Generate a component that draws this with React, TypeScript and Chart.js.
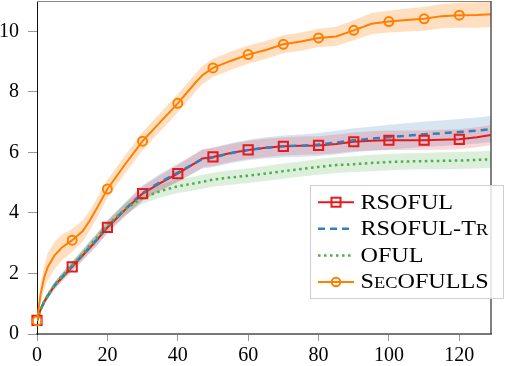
import React, { useEffect, useRef } from 'react';
import { Chart, registerables } from 'chart.js';

Chart.register(...registerables);

// ---- data ----
const xs = [0, 1, 2, 3, 5, 7, 10, 13, 15, 17, 20, 25, 30, 35, 40, 45, 47, 50, 55, 60, 65, 70, 75, 80, 85, 90, 95, 100, 105, 110, 115, 120, 125, 129];

const rsoful = [0.45, 0.8, 1.05, 1.25, 1.6, 1.85, 2.22, 2.6, 2.85, 3.1, 3.52, 4.1, 4.64, 4.98, 5.3, 5.65, 5.8, 5.85, 5.98, 6.08, 6.15, 6.2, 6.22, 6.23, 6.28, 6.35, 6.38, 6.4, 6.4, 6.4, 6.42, 6.43, 6.5, 6.57];
const rsofulSpread = [0.05, 0.08, 0.1, 0.1, 0.12, 0.13, 0.15, 0.17, 0.18, 0.19, 0.2, 0.22, 0.24, 0.26, 0.28, 0.3, 0.3, 0.3, 0.3, 0.3, 0.3, 0.3, 0.3, 0.3, 0.31, 0.31, 0.32, 0.32, 0.32, 0.32, 0.33, 0.33, 0.33, 0.33];

const rsofulTr = [0.45, 0.8, 1.05, 1.25, 1.6, 1.87, 2.25, 2.62, 2.88, 3.12, 3.55, 4.12, 4.66, 5.02, 5.33, 5.65, 5.78, 5.83, 5.97, 6.08, 6.15, 6.2, 6.22, 6.26, 6.32, 6.4, 6.45, 6.5, 6.55, 6.6, 6.63, 6.67, 6.72, 6.77];
const rsofulTrSpread = [0.05, 0.08, 0.1, 0.1, 0.12, 0.13, 0.15, 0.17, 0.18, 0.19, 0.2, 0.22, 0.25, 0.27, 0.29, 0.31, 0.31, 0.32, 0.33, 0.34, 0.35, 0.36, 0.37, 0.38, 0.39, 0.4, 0.4, 0.41, 0.41, 0.42, 0.42, 0.43, 0.43, 0.43];

const oful = [0.45, 0.8, 1.07, 1.27, 1.62, 1.9, 2.27, 2.65, 2.92, 3.18, 3.6, 4.12, 4.5, 4.72, 4.88, 4.98, 5.03, 5.1, 5.17, 5.23, 5.3, 5.38, 5.45, 5.52, 5.58, 5.61, 5.65, 5.68, 5.7, 5.71, 5.72, 5.73, 5.75, 5.77];
const ofulSpread = [0.05, 0.07, 0.08, 0.09, 0.1, 0.11, 0.12, 0.13, 0.14, 0.15, 0.16, 0.18, 0.2, 0.21, 0.22, 0.23, 0.23, 0.23, 0.24, 0.24, 0.25, 0.25, 0.25, 0.26, 0.26, 0.26, 0.27, 0.27, 0.27, 0.27, 0.28, 0.28, 0.28, 0.28];

const secofulls = [0.43, 1.3, 1.85, 2.2, 2.6, 2.85, 3.1, 3.4, 3.75, 4.15, 4.79, 5.6, 6.37, 7.0, 7.62, 8.3, 8.55, 8.79, 9.02, 9.23, 9.38, 9.57, 9.66, 9.78, 9.83, 10.03, 10.25, 10.32, 10.37, 10.41, 10.5, 10.53, 10.54, 10.56];
const secofullsSpread = [0.05, 0.3, 0.4, 0.45, 0.45, 0.42, 0.38, 0.35, 0.33, 0.32, 0.3, 0.3, 0.3, 0.3, 0.3, 0.3, 0.3, 0.3, 0.3, 0.3, 0.3, 0.3, 0.3, 0.3, 0.32, 0.33, 0.35, 0.36, 0.38, 0.39, 0.4, 0.41, 0.42, 0.42];

const markerEvery = 10;
const markerLast = 120;

const xMin = 0;
const xMax = 129;
const xStep = 20;
const yMin = 0;
const yMax = 11;
const yStep = 2;

// legend labels: [text, smallCaps]
const legendLabels: [string, boolean][][] = [
  [['RSOFUL', false]],
  [['RSOFUL-T', false], ['R', true]],
  [['OFUL', false]],
  [['S', false], ['EC', true], ['OFULLS', false]],
];

// ---- styles ----
const RED = '#e41a1c';
const BLUE = '#377eb8';
const GREEN = '#4daf4a';
const ORANGE = '#ff7f00';
const FONT = '"Liberation Serif", "Times New Roman", serif';

const line = (ys: number[]) => xs.map((x, i) => ({ x, y: ys[i] }));
const bandEdge = (ys: number[], sp: number[], sign: number) => xs.map((x, i) => ({ x, y: ys[i] + sign * sp[i] }));
const marks = (ys: number[]) =>
  xs.map((x, i) => ({ x, y: ys[i] })).filter((p) => p.x % markerEvery === 0 && p.x <= markerLast);

const legendStyles = [
  { color: RED, dash: [] as number[], width: 2, marker: 'rect' },
  { color: BLUE, dash: [7, 5], width: 2.5, marker: null },
  { color: GREEN, dash: [2.5, 3.5], width: 2.5, marker: null },
  { color: ORANGE, dash: [] as number[], width: 2, marker: 'circle' },
];

const framePlugin = {
  id: 'frameAndLegend',
  afterDraw(chart: any) {
    const ctx = chart.ctx as CanvasRenderingContext2D;
    const a = chart.chartArea;
    ctx.save();
    // top & right frame
    ctx.strokeStyle = '#888';
    ctx.lineWidth = 1;
    ctx.beginPath();
    ctx.moveTo(a.left, a.top + 0.5);
    ctx.lineTo(a.right, a.top + 0.5);
    ctx.stroke();
    ctx.strokeStyle = '#555';
    ctx.lineWidth = 1.5;
    ctx.beginPath();
    ctx.moveTo(a.right, a.top);
    ctx.lineTo(a.right, a.bottom);
    ctx.stroke();

    // legend box
    const bx = 310.5, by = 185.5, bw = 193, bh = 113;
    ctx.fillStyle = 'rgba(255,255,255,0.82)';
    ctx.fillRect(bx, by, bw, bh);
    ctx.strokeStyle = '#cfcfcf';
    ctx.lineWidth = 1;
    ctx.strokeRect(bx, by, bw, bh);

    const baselines = [208.5, 235, 261.7, 288.3];
    const sx = 1.15;
    legendLabels.forEach((segs, i) => {
      const st = legendStyles[i];
      const ly = baselines[i] - 6.3;
      ctx.save();
      ctx.strokeStyle = st.color;
      ctx.lineWidth = st.width;
      ctx.setLineDash(st.dash);
      ctx.beginPath();
      ctx.moveTo(318, ly);
      ctx.lineTo(354, ly);
      ctx.stroke();
      ctx.setLineDash([]);
      ctx.lineWidth = 2;
      if (st.marker === 'rect') {
        ctx.strokeRect(331.5, ly - 4.5, 9, 9);
      } else if (st.marker === 'circle') {
        ctx.beginPath();
        ctx.arc(336, ly, 4.3, 0, Math.PI * 2);
        ctx.stroke();
      }
      ctx.restore();

      let x = 360.5;
      ctx.fillStyle = '#000';
      ctx.textBaseline = 'alphabetic';
      ctx.textAlign = 'left';
      segs.forEach(([t, small]) => {
        ctx.font = (small ? '16px ' : '21px ') + FONT;
        ctx.save();
        ctx.translate(x, baselines[i]);
        ctx.scale(sx, 1);
        ctx.fillText(t, 0, 0);
        ctx.restore();
        x += ctx.measureText(t).width * sx;
      });
    });
    ctx.restore();
  },
};

const zeroPad = (s: any) => {
  s.paddingTop = 0;
  s.paddingBottom = 0;
  s.paddingLeft = 0;
  s.paddingRight = 0;
};

export default function App() {
  const ref = useRef<HTMLCanvasElement | null>(null);

  useEffect(() => {
    document.body.style.margin = '0';
    const canvas = ref.current;
    if (!canvas) return;

    const bandSet = (ys: number[], sp: number[], color: string, order: number) => [
      {
        data: bandEdge(ys, sp, -1),
        borderWidth: 0,
        pointRadius: 0,
        fill: false,
        order,
      },
      {
        data: bandEdge(ys, sp, 1),
        borderWidth: 0,
        pointRadius: 0,
        fill: '-1',
        backgroundColor: color,
        order,
      },
    ];

    const chart = new Chart(canvas, {
      type: 'line',
      data: {
        datasets: [
          {
            data: marks(secofulls),
            showLine: false,
            pointStyle: 'circle',
            pointRadius: 4.5,
            pointBorderWidth: 2,
            pointBorderColor: ORANGE,
            pointBackgroundColor: 'rgba(0,0,0,0)',
            clip: false,
            order: 0,
          },
          {
            data: line(secofulls),
            borderColor: ORANGE,
            borderWidth: 2,
            pointRadius: 0,
            fill: false,
            order: 1,
          },
          {
            data: marks(rsoful),
            showLine: false,
            pointStyle: 'rect',
            pointRadius: 6.5,
            pointBorderWidth: 2,
            pointBorderColor: RED,
            pointBackgroundColor: 'rgba(0,0,0,0)',
            clip: false,
            order: 2,
          },
          {
            data: line(oful),
            borderColor: GREEN,
            borderWidth: 2.5,
            borderDash: [2.5, 3.5],
            pointRadius: 0,
            fill: false,
            order: 3,
          },
          {
            data: line(rsofulTr),
            borderColor: BLUE,
            borderWidth: 2.5,
            borderDash: [7, 5],
            pointRadius: 0,
            fill: false,
            order: 4,
          },
          {
            data: line(rsoful),
            borderColor: RED,
            borderWidth: 2,
            pointRadius: 0,
            fill: false,
            order: 5,
          },
          ...bandSet(rsoful, rsofulSpread, 'rgba(228,26,28,0.17)', 6),
          ...bandSet(rsofulTr, rsofulTrSpread, 'rgba(55,126,184,0.2)', 7),
          ...bandSet(oful, ofulSpread, 'rgba(77,175,74,0.2)', 8),
          ...bandSet(secofulls, secofullsSpread, 'rgba(255,127,0,0.25)', 9),
        ] as any,
      },
      options: {
        animation: false,
        responsive: false,
        devicePixelRatio: 1,
        layout: { autoPadding: false, padding: { left: 0, right: 15, top: 1, bottom: 0 } },
        plugins: {
          legend: { display: false },
          tooltip: { enabled: false },
        },
        elements: { line: { tension: 0 } },
        scales: {
          x: {
            type: 'linear',
            min: xMin,
            max: xMax,
            afterFit: (s: any) => {
              s.height = 32;
              zeroPad(s);
            },
            ticks: {
              stepSize: xStep,
              includeBounds: false,
              color: '#000',
              padding: 3,
              font: { family: FONT, size: 20 },
              maxRotation: 0,
            },
            grid: {
              drawOnChartArea: false,
              drawTicks: true,
              tickLength: 7,
              color: '#999',
              lineWidth: 1,
            },
            border: { display: true, color: '#777', width: 2 },
          },
          y: {
            type: 'linear',
            min: yMin,
            max: yMax,
            afterFit: (s: any) => {
              s.width = 37;
              zeroPad(s);
            },
            ticks: {
              stepSize: yStep,
              includeBounds: false,
              color: '#000',
              padding: 9,
              font: { family: FONT, size: 20 },
            },
            grid: {
              drawOnChartArea: false,
              drawTicks: true,
              tickLength: 9,
              color: '#999',
              lineWidth: 1,
            },
            border: { display: true, color: '#111', width: 1 },
          },
        },
      } as any,
      plugins: [framePlugin],
    });

    return () => chart.destroy();
  }, []);

  return (
    <div style={{ position: 'absolute', left: 0, top: 0, width: 506, height: 366 }}>
      <canvas ref={ref} width={506} height={366} style={{ width: 506, height: 366 }} />
    </div>
  );
}
